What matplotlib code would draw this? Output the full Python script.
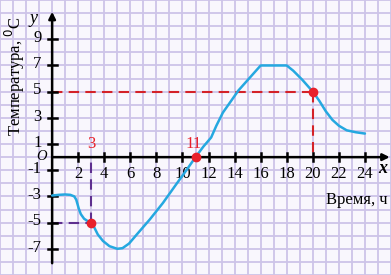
import matplotlib
matplotlib.use('Agg')
import matplotlib.pyplot as plt

# curve (hours, temperature)
hours = [0, 0.5, 1.0, 1.4, 1.7, 1.85, 1.95, 2.05, 2.2, 2.45, 2.75, 3.0, 3.2, 3.5, 3.9,
         4.4, 5.0, 5.4, 5.9, 6.5, 7.5, 8.5, 9.5, 10.3, 11.0, 11.6, 12.2, 12.6, 13.1,
         14.3, 16.0, 18.0, 18.5, 19.2, 20.0, 20.5, 21.0, 21.5, 22.0, 22.6, 23.3, 24.0]
temps = [-2.93, -2.88, -2.85, -2.88, -3.0, -3.25, -3.6, -3.95, -4.35, -4.7, -4.9, -5.0,
         -5.3, -5.9, -6.4, -6.8, -7.0, -6.95, -6.6, -5.9, -4.75, -3.5, -2.1, -1.0, 0.0,
         0.8, 1.5, 2.4, 3.4, 5.1, 7.0, 7.0, 6.6, 5.9, 5.0, 4.3, 3.5, 2.85, 2.4, 2.05,
         1.9, 1.8]

x_ticks = [2, 4, 6, 8, 10, 12, 14, 16, 18, 20, 22, 24]
y_ticks = [9, 7, 5, 3, 1, -1, -3, -5, -7]

red_points = [(3, -5), (11, 0), (20, 5)]

plt.rcParams['font.family'] = ['Liberation Serif', 'DejaVu Serif']

fig = plt.figure(figsize=(3.91, 2.75), dpi=100)
fig.patch.set_facecolor('#f9f7fd')
ax = fig.add_axes([0, 0, 1, 1])
ax.set_facecolor('#f9f7fd')
ax.set_xlim(-4, 26)
ax.set_ylim(-9, 12)
ax.axis('off')

# squared paper
for gx in range(-4, 27):
    ax.axvline(gx, color='#cdc4e8', lw=1.3, zorder=0)
for gy in range(-9, 13):
    ax.axhline(gy, color='#cdc4e8', lw=1.3, zorder=0)

# axes with arrows
ax.annotate('', xy=(25.9, 0), xytext=(0, 0),
            arrowprops=dict(arrowstyle='-|>', color='black', lw=1.8,
                            mutation_scale=10, shrinkA=0, shrinkB=0))
ax.annotate('', xy=(0, 11.1), xytext=(0, -8.1),
            arrowprops=dict(arrowstyle='-|>', color='black', lw=1.8,
                            mutation_scale=10, shrinkA=0, shrinkB=0))

for t in x_ticks:
    ax.plot([t, t], [-0.3, 0.3], color='black', lw=1.8, zorder=3)
    ax.text(t, -1.3, str(t), ha='center', va='center', fontsize=12)
for t in y_ticks:
    ax.plot([-0.35, 0.35], [t, t], color='black', lw=1.8, zorder=3)
    ax.text(-0.8, t + 0.1, str(t), ha='right', va='center', fontsize=12)

ax.text(-0.4, -0.25, 'O', ha='right', va='baseline', fontsize=10.5, style='italic')
ax.text(-1.45, 10.6, 'y', ha='center', va='center', fontsize=13, style='italic')
ax.text(25.4, -0.85, 'x', ha='center', va='center', fontsize=13,
        style='italic', fontweight='bold')
ax.text(25.75, -3.3, 'Время, ч', ha='right', va='center', fontsize=12)
ax.text(-2.85, 6.2, 'Температура, $^0$C', ha='center', va='center',
        fontsize=12, rotation=90)

# helper dashed lines
ax.plot([0, 20], [5, 5], color='#d42228', lw=1.5, ls=(0, (5, 3)), zorder=2)
ax.plot([20, 20], [5, 0], color='#d42228', lw=1.5, ls=(0, (5, 3)), zorder=2)
ax.plot([0, 3], [-5, -5], color='#5e2f8f', lw=1.5, ls=(0, (5, 3)), zorder=2)
ax.plot([3, 3], [-5, 0], color='#5e2f8f', lw=1.5, ls=(0, (5, 3)), zorder=2)

ax.plot(hours, temps, color='#25a8e0', lw=1.8, zorder=4,
        solid_joinstyle='round', solid_capstyle='round')

for px, py in red_points:
    ax.plot(px, py, 'o', color='#e8202a', ms=6, zorder=5)
ax.text(3, 1.0, '3', ha='center', va='center', fontsize=12, color='#e8202a')
ax.text(10.85, 1.0, '11', ha='center', va='center', fontsize=12, color='#e8202a')

fig.savefig('out.png', dpi=100)
